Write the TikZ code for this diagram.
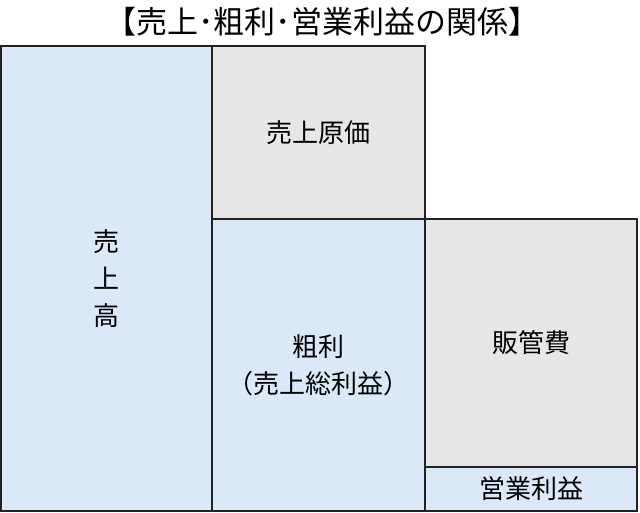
\documentclass[tikz,border=0pt]{standalone}
\usepackage{fontspec}
\newfontfamily\jp{Noto Sans CJK JP}
\usepackage{xcolor}
\definecolor{blu}{HTML}{DAE8F7}
\definecolor{gry}{HTML}{E7E7E7}
\definecolor{edge}{HTML}{222222}
\usetikzlibrary{positioning}

\begin{document}
\begin{tikzpicture}[x=1pt, y=-1pt,
		cell/.style={rectangle, draw=edge, line width=1.3pt, inner sep=0pt, outer sep=0pt, align=center, font=\jp\fontsize{26}{37}\selectfont},
		bluecell/.style={cell, fill=blu},
		greycell/.style={cell, fill=gry},
		mytitle/.style={font=\jp\fontsize{31}{36}\selectfont}
		]
		\useasboundingbox (0,0) rectangle (640,513);
		
		\node[mytitle] (title) at (322, 22) {【売上･粗利･営業利益の関係】};
		
		\node[bluecell, minimum width=211pt, minimum height=465pt] (uri) at (106.5, 278.5) {売\\上\\高};
		\node[greycell, minimum width=213pt, minimum height=173pt] (genka) at (318.5, 132.5) {売上原価};
		\node[bluecell, minimum width=213pt, minimum height=292pt] (arari) at (318.5, 365) {粗利\\（売上総利益）};
		\node[greycell, minimum width=212pt, minimum height=248pt] (hankan) at (531, 343) {販管費};
		\node[bluecell, minimum width=212pt, minimum height=44pt] (eigyo) at (531, 489) {営業利益};
		
\end{tikzpicture}
\end{document}
